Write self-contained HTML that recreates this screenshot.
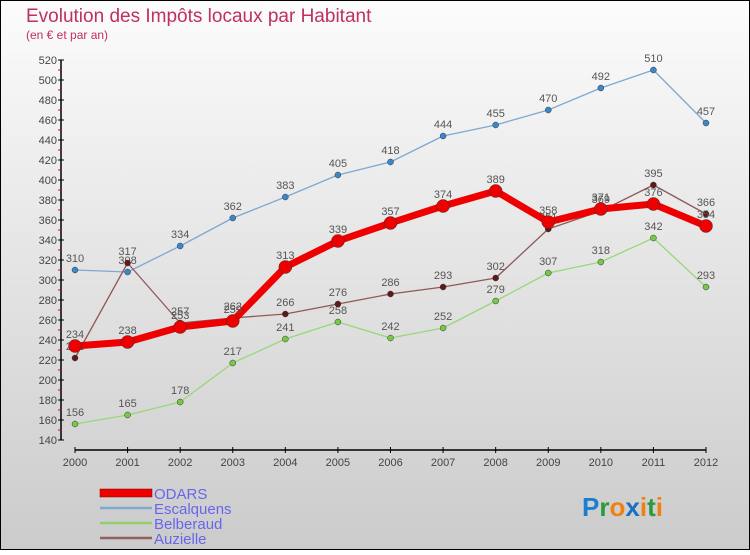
<!DOCTYPE html>
<html><head><meta charset="utf-8"><style>
html,body{margin:0;padding:0}
body{width:750px;height:550px;overflow:hidden;font-family:"Liberation Sans",sans-serif}
</style></head><body>
<svg id="chart" width="750" height="550" xmlns="http://www.w3.org/2000/svg">
<defs><linearGradient id="bg" x1="0" y1="0" x2="0" y2="1"><stop offset="0" stop-color="#fcfcfc"/><stop offset="1" stop-color="#cbcbcb"/></linearGradient></defs>
<rect x="0.5" y="0.5" width="749" height="549" fill="url(#bg)" stroke="#000"/>
<text x="26" y="22" font-size="19" fill="#c0305a">Evolution des Impôts locaux par Habitant</text>
<text x="26" y="39" font-size="12" fill="#c0305a">(en € et par an)</text>
<g id="axes"></g><g id="series"></g>
<g>
<rect x="100" y="489" width="52" height="8" fill="#e00" stroke="#800" stroke-width="0.5"/>
<text x="154" y="499" font-size="15" fill="#6666ee">ODARS</text>
<line x1="100" y1="508" x2="152" y2="508" stroke="#80a8d0" stroke-width="2.5"/>
<text x="154" y="514" font-size="15" fill="#6666ee">Escalquens</text>
<line x1="100" y1="523" x2="152" y2="523" stroke="#90d070" stroke-width="2.5"/>
<text x="154" y="529" font-size="15" fill="#6666ee">Belberaud</text>
<line x1="100" y1="538" x2="152" y2="538" stroke="#906060" stroke-width="2.5"/>
<text x="154" y="544" font-size="15" fill="#6666ee">Auzielle</text>
</g>
<text x="582" y="516" font-size="26" font-weight="bold"><tspan fill="#1a7fd0">P</tspan><tspan fill="#2a9a40">r</tspan><tspan fill="#f08010">o</tspan><tspan fill="#1a6fc0">x</tspan><tspan fill="#f08010">i</tspan><tspan fill="#2a9a40">t</tspan><tspan fill="#f08010">i</tspan></text>
</svg>
<script>
const years=["2000","2001","2002","2003","2004","2005","2006","2007","2008","2009","2010","2011","2012"];
const odars=[234,238,253,259,313,339,357,374,389,358,371,376,354];
const escalquens=[310,308,334,362,383,405,418,444,455,470,492,510,457];
const belberaud=[156,165,178,217,241,258,242,252,279,307,318,342,293];
const auzielle=[222,317,257,262,266,276,286,293,302,351,369,395,366];
const yTicks=[140,160,180,200,220,240,260,280,300,320,340,360,380,400,420,440,460,480,500,520];
const NS="http://www.w3.org/2000/svg";
const x=i=>75+i*(706-75)/(years.length-1);
const y=v=>440-(v-140)*(380/380);
function mk(tag,attrs,parent,txt){const e=document.createElementNS(NS,tag);for(const k in attrs)e.setAttribute(k,attrs[k]);if(txt!==undefined)e.textContent=txt;parent.appendChild(e);return e;}
const ax=document.getElementById('axes');
let e=mk('line',{x1:61,y1:60,x2:61,y2:440,stroke:'#000','stroke-width':1.5},ax);

e=mk('line',{x1:75,y1:450,x2:706,y2:450,stroke:'#000','stroke-width':1.5},ax);

yTicks.forEach((t,i)=>{
  mk('line',{x1:58,y1:y(t),x2:64,y2:y(t),stroke:'#000'},ax);
  if(i<yTicks.length-1)mk('line',{x1:58,y1:y(t+10),x2:61,y2:y(t+10),stroke:'#e00'},ax);
  const l=mk('text',{x:57,y:y(t)+4,'font-size':11,fill:'#444','text-anchor':'end'},ax,t);
  
});
years.forEach((yr,i)=>{
  mk('line',{x1:x(i),y1:447,x2:x(i),y2:453,stroke:'#000'},ax);
  const l=mk('text',{x:x(i),y:466,'font-size':11,fill:'#444','text-anchor':'middle'},ax,yr);
  
});
const sg=document.getElementById('series');
function series(name,vals,color,dot,w,r){
  const g=mk('g',{},sg);
  
  mk('polyline',{points:vals.map((v,i)=>x(i)+','+y(v)).join(' '),fill:'none',stroke:color,'stroke-width':w,'stroke-linejoin':'round'},g);
  vals.forEach((v,i)=>{
    const c=mk('circle',{cx:x(i),cy:y(v),r:r,fill:dot,stroke:'#333','stroke-width':0.5},g);
    
    const t=mk('text',{x:x(i),y:y(v)-8,'font-size':11,fill:'#555','text-anchor':'middle'},g,v);
    
  });
}
series('escalquens',escalquens,'#80a8d0','#3a88cc',1.3,3);
series('belberaud',belberaud,'#98d878','#78c848',1.3,3);
series('auzielle',auzielle,'#905858','#601818',1.3,3);
series('odars',odars,'#ee0000','#ee0000',7,6.5);
</script>
</body></html>
